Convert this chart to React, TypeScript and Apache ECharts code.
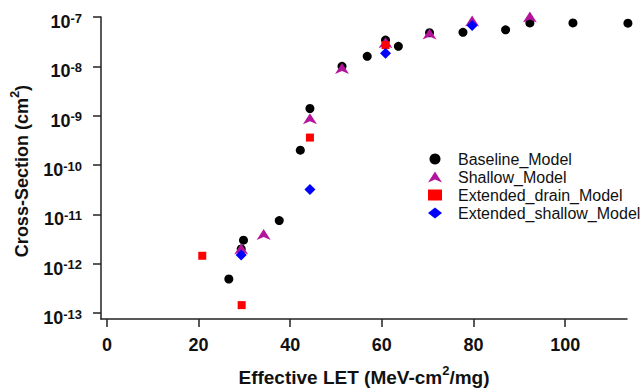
import React, { useEffect, useRef } from "react";
import * as echarts from "echarts";

const baselineX = [26.6, 29.3, 29.8, 37.6, 42.2, 44.3, 51.3, 56.8, 60.8, 63.6, 70.4, 77.7, 87.0, 92.3, 101.7, 113.7];
const baselineY = [4.9e-13, 2.0e-12, 3.0e-12, 7.5e-12, 2.0e-10, 1.4e-9, 1.0e-8, 1.6e-8, 3.4e-8, 2.55e-8, 4.8e-8, 4.9e-8, 5.5e-8, 7.6e-8, 7.6e-8, 7.5e-8];

const shallowX = [29.3, 34.2, 44.3, 51.3, 60.8, 70.4, 79.7, 92.3];
const shallowY = [2.0e-12, 3.9e-12, 8.7e-10, 9.0e-9, 3.0e-8, 4.5e-8, 8.3e-8, 1.0e-7];

const drainX = [20.8, 29.4, 44.3, 60.8];
const drainY = [1.45e-12, 1.45e-13, 3.6e-10, 2.7e-8];

const extShallowX = [29.3, 44.3, 60.8, 79.7];
const extShallowY = [1.5e-12, 3.2e-11, 1.85e-8, 6.7e-8];

const xTicks = [0, 20, 40, 60, 80, 100];
const yTicks = [1e-13, 1e-12, 1e-11, 1e-10, 1e-9, 1e-8, 1e-7];

const seriesNames = ["Baseline_Model", "Shallow_Model", "Extended_drain_Model", "Extended_shallow_Model"];

const FONT = "'Liberation Sans', Arial, sans-serif";
const ARROW = "path://M7,0 L14,11 L7,8 L0,11 Z";

const zip = (xs: number[], ys: number[]) => xs.map((x, i) => [x, ys[i]]);

export default function App() {
  const ref = useRef<HTMLDivElement>(null);
  useEffect(() => {
    if (!ref.current) return;
    const chart = echarts.init(ref.current, null, { renderer: "svg" });
    const axisColor = "#222";
    chart.setOption({
      animation: false,
      backgroundColor: "#fff",
      textStyle: { fontFamily: FONT },
      grid: { left: 101, right: 17, top: 17, bottom: 69, containLabel: false },
      legend: {
        orient: "vertical",
        left: 428,
        top: 151,
        padding: 0,
        itemWidth: 14,
        itemHeight: 11,
        itemGap: 2,
        data: [
          { name: seriesNames[0], icon: "circle" },
          { name: seriesNames[1], icon: ARROW },
          { name: seriesNames[2], icon: "rect" },
          { name: seriesNames[3], icon: "diamond" },
        ],
        textStyle: { fontFamily: FONT, fontSize: 16, color: "#111", padding: [0, 0, 0, 11] },
      },
      xAxis: {
        type: "value",
        min: -1.3,
        max: 113.5,
        axisLine: { show: true, onZero: false, lineStyle: { color: axisColor, width: 1.5 } },
        axisTick: { show: true, length: 8, customValues: xTicks, lineStyle: { color: axisColor, width: 1.5 } },
        axisLabel: {
          customValues: xTicks,
          margin: 17,
          fontSize: 18,
          fontWeight: "bold",
          color: "#111",
          fontFamily: FONT,
        },
        splitLine: { show: false },
        name: "{t|Effective LET (MeV-cm}{s|2}{t|/mg)}",
        nameLocation: "middle",
        nameGap: 45,
        nameTextStyle: {
          fontFamily: FONT,
          rich: {
            t: { fontSize: 19, fontWeight: "bold", color: "#111", fontFamily: FONT },
            s: { fontSize: 13, fontWeight: "bold", color: "#111", fontFamily: FONT, padding: [0, 0, 14, 0] },
          },
        },
      },
      yAxis: {
        type: "log",
        logBase: 10,
        min: Math.pow(10, -13.12),
        max: 1e-7,
        axisLine: { show: true, onZero: false, lineStyle: { color: axisColor, width: 1.5 } },
        axisTick: { show: true, length: 8, customValues: yTicks, lineStyle: { color: axisColor, width: 1.5 } },
        axisLabel: {
          customValues: yTicks,
          margin: 19,
          padding: [10, 0, 0, 0],
          formatter: (v: number) => `{b|10}{s|${Math.round(Math.log10(v))}}`,
          rich: {
            b: { fontSize: 18, fontWeight: "bold", color: "#111", fontFamily: FONT },
            s: { fontSize: 13, fontWeight: "bold", color: "#111", fontFamily: FONT, padding: [0, 0, 8, 0] },
          },
        },
        splitLine: { show: false },
        minorSplitLine: { show: false },
        name: "{t|Cross-Section (cm}{s|2}{t|)}",
        nameLocation: "middle",
        nameGap: 66,
        nameTextStyle: {
          fontFamily: FONT,
          padding: [0, 6, 0, 0],
          rich: {
            t: { fontSize: 18, fontWeight: "bold", color: "#111", fontFamily: FONT },
            s: { fontSize: 13, fontWeight: "bold", color: "#111", fontFamily: FONT, padding: [0, 0, 14, 0] },
          },
        },
      },
      series: [
        {
          name: seriesNames[0],
          type: "scatter",
          symbol: "circle",
          symbolSize: 9,
          clip: false,
          itemStyle: { color: "#000", opacity: 1 },
          data: zip(baselineX, baselineY),
        },
        {
          name: seriesNames[1],
          type: "scatter",
          symbol: ARROW,
          symbolSize: [14, 11],
          clip: false,
          itemStyle: { color: "#b4149c", opacity: 1 },
          data: zip(shallowX, shallowY),
        },
        {
          name: seriesNames[2],
          type: "scatter",
          symbol: "rect",
          symbolSize: 8,
          clip: false,
          itemStyle: { color: "#ff0000", opacity: 1 },
          data: zip(drainX, drainY),
        },
        {
          name: seriesNames[3],
          type: "scatter",
          symbol: "diamond",
          symbolSize: 11,
          clip: false,
          itemStyle: { color: "#0000ff", opacity: 1 },
          data: zip(extShallowX, extShallowY),
        },
      ],
    });
    return () => chart.dispose();
  }, []);
  return (
    <div
      ref={ref}
      style={{ position: "absolute", left: 0, top: 0, width: 644, height: 392, background: "#fff" }}
    />
  );
}
